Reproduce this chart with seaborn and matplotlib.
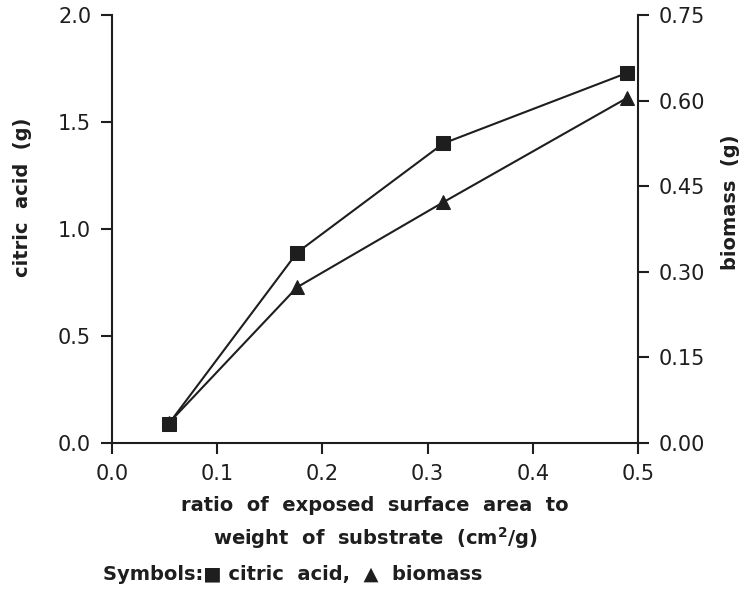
import matplotlib
matplotlib.use("Agg")
import matplotlib.pyplot as plt
import seaborn as sns
import pandas as pd

# data
ratio = [0.054, 0.176, 0.315, 0.49]
citric_acid = [0.09, 0.89, 1.40, 1.73]
biomass = [0.035, 0.273, 0.422, 0.605]

left_ticks = [0.0, 0.5, 1.0, 1.5, 2.0]
right_ticks = [0.00, 0.15, 0.30, 0.45, 0.60, 0.75]
x_ticks = [0.0, 0.1, 0.2, 0.3, 0.4, 0.5]

sns.set_style("ticks")
plt.rcParams['font.family'] = ['DejaVu Sans']

df = pd.DataFrame({"ratio": ratio, "citric": citric_acid, "biomass": biomass})

fig = plt.figure(figsize=(7.51, 5.89), dpi=100)
ax = fig.add_axes([112/751, 1-443/589, (638-112)/751, (443-15)/589])
ax2 = ax.twinx()

ink = "#1e1e1e"
sns.lineplot(data=df, x="ratio", y="citric", ax=ax, color=ink, marker="s",
             markersize=10, markeredgecolor=ink, linewidth=1.5, zorder=3)
sns.lineplot(data=df, x="ratio", y="biomass", ax=ax2, color=ink, marker="^",
             markersize=10, markeredgecolor=ink, linewidth=1.5, zorder=3)

ax.set_xlim(0, 0.5)
ax.set_ylim(0, 2.0)
ax2.set_ylim(0, 0.75)
ax.set_xticks(x_ticks)
ax.set_xticklabels([f"{v:.1f}" for v in x_ticks])
ax.set_yticks(left_ticks)
ax.set_yticklabels([f"{v:.1f}" for v in left_ticks])
ax2.set_yticks(right_ticks)
ax2.set_yticklabels([f"{v:.2f}" for v in right_ticks])

for a in (ax, ax2):
    a.spines['top'].set_visible(False)
    for s in a.spines.values():
        s.set_linewidth(1.5)
        s.set_color(ink)
    a.tick_params(axis='both', length=8, width=1.5, color=ink, labelsize=15,
                  labelcolor=ink, pad=7, direction='out')
ax2.spines['left'].set_visible(False)
ax2.spines['bottom'].set_visible(False)
ax.spines['right'].set_visible(False)

ax.set_xlabel("ratio  of  exposed  surface  area  to\nweight  of  substrate  (cm$^\\mathbf{2}$/g)",
              fontsize=14, fontweight='bold', color=ink, linespacing=1.5, labelpad=9)
ax.set_ylabel("citric  acid  (g)", fontsize=14, fontweight='bold', color=ink)
ax2.set_ylabel("biomass  (g)", fontsize=14, fontweight='bold', color=ink)
ax.yaxis.set_label_coords(-0.152, 0.575)
ax2.yaxis.set_label_coords(1.158, 0.563)

fig.text(103/751, 1-575/589, "Symbols:■ citric  acid,  ▲  biomass", fontsize=14,
         fontweight='bold', color=ink, va='center', ha='left')

fig.savefig("out.png", dpi=100, facecolor="white")
